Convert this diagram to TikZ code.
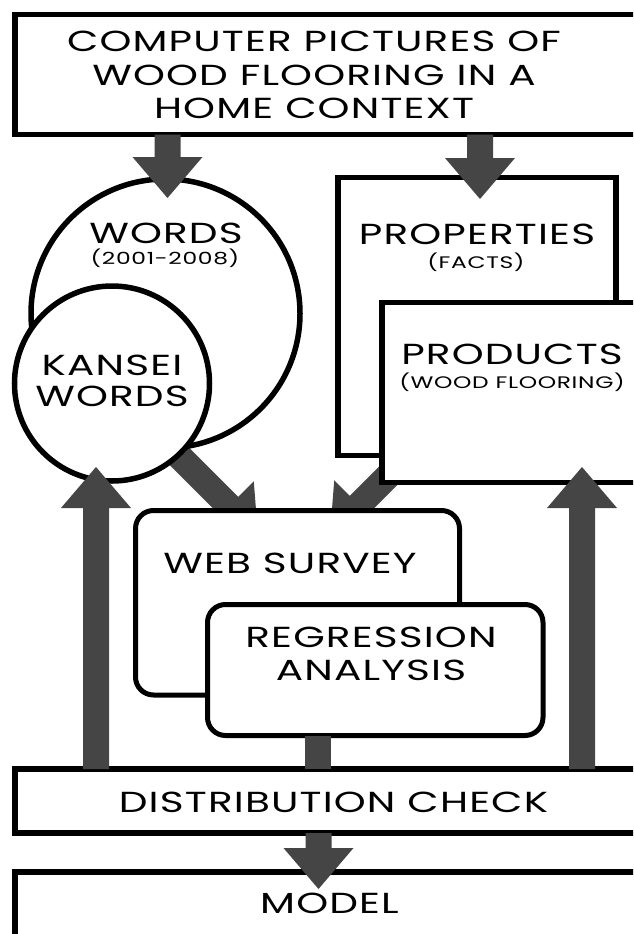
\documentclass[tikz,border=0pt]{standalone}
\usepackage{fontspec}
\setmainfont{Poppins}[FakeStretch=1.4,LetterSpace=4]
\usetikzlibrary{calc}
\definecolor{arrowgrey}{HTML}{454545}

\newcommand{\fatarrow}[2]{%
 \coordinate (fa-n) at ($(#2)!41pt!(#1)$);
 \fill[arrowgrey] ($(#1)!13pt!90:(#2)$) -- ($(fa-n)!13pt!90:(#2)$) -- ($(fa-n)!35pt!90:(#2)$) -- (#2)
  -- ($(fa-n)!35pt!-90:(#2)$) -- ($(fa-n)!13pt!-90:(#2)$) -- ($(#1)!13pt!-90:(#2)$) -- cycle;
}

\begin{document}
\begin{tikzpicture}[x=1pt,y=-1pt,
 frame/.style={draw,line width=5.5pt,fill=white,outer sep=0pt,inner sep=0pt,anchor=north west},
 roundframe/.style={frame,line width=5pt,rounded corners=18pt},
 ring/.style={circle,draw,line width=5.5pt,fill=white,outer sep=0pt,inner sep=0pt},
 lbl/.style={font=\fontsize{29}{33.5}\selectfont,align=center,inner sep=0pt},
 sublbl/.style={font=\fontsize{16.7}{18}\selectfont,inner sep=0pt}]
\useasboundingbox (0,0) rectangle (633,934);
\clip (0,0) rectangle (633,934);

\coordinate (wordsout) at (150,427);
\coordinate (productsout) at (405,459);
\coordinate (surveyin1) at (258,535);
\coordinate (surveyin2) at (330,534);
\fatarrow{wordsout}{surveyin1}
\fatarrow{productsout}{surveyin2}

\node[frame,minimum width=650pt,minimum height=119.5pt] (pictures) at (14.75,14.75) {};
\node[ring,minimum size=269pt] (words) at (165.5,313.5) {};
\node[ring,minimum size=195pt] (kansei) at (112,383.5) {};
\node[frame,minimum width=278pt,minimum height=278pt] (properties) at (338,177.5) {};
\node[frame,minimum width=300pt,minimum height=180pt] (products) at (382,302.5) {};
\node[roundframe,minimum width=324pt,minimum height=184.5pt] (survey) at (135.5,510.5) {};
\node[roundframe,minimum width=335.5pt,minimum height=131pt] (regression) at (207.5,604.5) {};
\node[frame,minimum width=650pt,minimum height=64pt] (check) at (14.75,769) {};
\node[frame,minimum width=650pt,minimum height=100pt] (model) at (14.75,872) {};

\coordinate (picturesout1) at (167.5,134.5);
\coordinate (wordsin) at (167.5,198);
\coordinate (picturesout2) at (480,134.5);
\coordinate (propertiesin) at (480,199);
\coordinate (checkout1) at (96,769);
\coordinate (kanseiin) at (96,467);
\coordinate (checkout2) at (582,769);
\coordinate (productsin) at (582,467);
\coordinate (regressionout) at (318,735.5);
\coordinate (checkin) at (318,769);
\coordinate (checkout3) at (318.5,833);
\coordinate (modelin) at (318.5,889);
\fatarrow{picturesout1}{wordsin}
\fatarrow{picturesout2}{propertiesin}
\fatarrow{checkout1}{kanseiin}
\fatarrow{checkout2}{productsin}
\fatarrow{checkout3}{modelin}
\fill[arrowgrey] ($(regressionout)+(-13,0)$) rectangle ($(checkin)+(13,0)$);

\node[lbl] (picturestext) at (314,75) {COMPUTER PICTURES OF\\WOOD FLOORING IN A\\HOME CONTEXT};
\node[lbl] (wordstext) at (166,233.5) {WORDS};
\node[sublbl] (yearstext) at (165,258.5) {(2001-2008)};
\node[lbl,font=\fontsize{29}{31}\selectfont] (kanseitext) at (112,381) {KANSEI\\WORDS};
\node[lbl] (propertiestext) at (477,234) {PROPERTIES};
\node[sublbl] (factstext) at (476,262) {(FACTS)};
\node[lbl] (productstext) at (512,354) {PRODUCTS};
\node[sublbl] (flooringtext) at (512,382) {(WOOD FLOORING)};
\node[lbl] (surveytext) at (290,563) {WEB SURVEY};
\node[lbl] (regressiontext) at (371,654) {REGRESSION\\ANALYSIS};
\node[lbl] (checktext) at (333.5,802) {DISTRIBUTION CHECK};
\node[lbl] (modeltext) at (329.5,903) {MODEL};
\end{tikzpicture}
\end{document}
